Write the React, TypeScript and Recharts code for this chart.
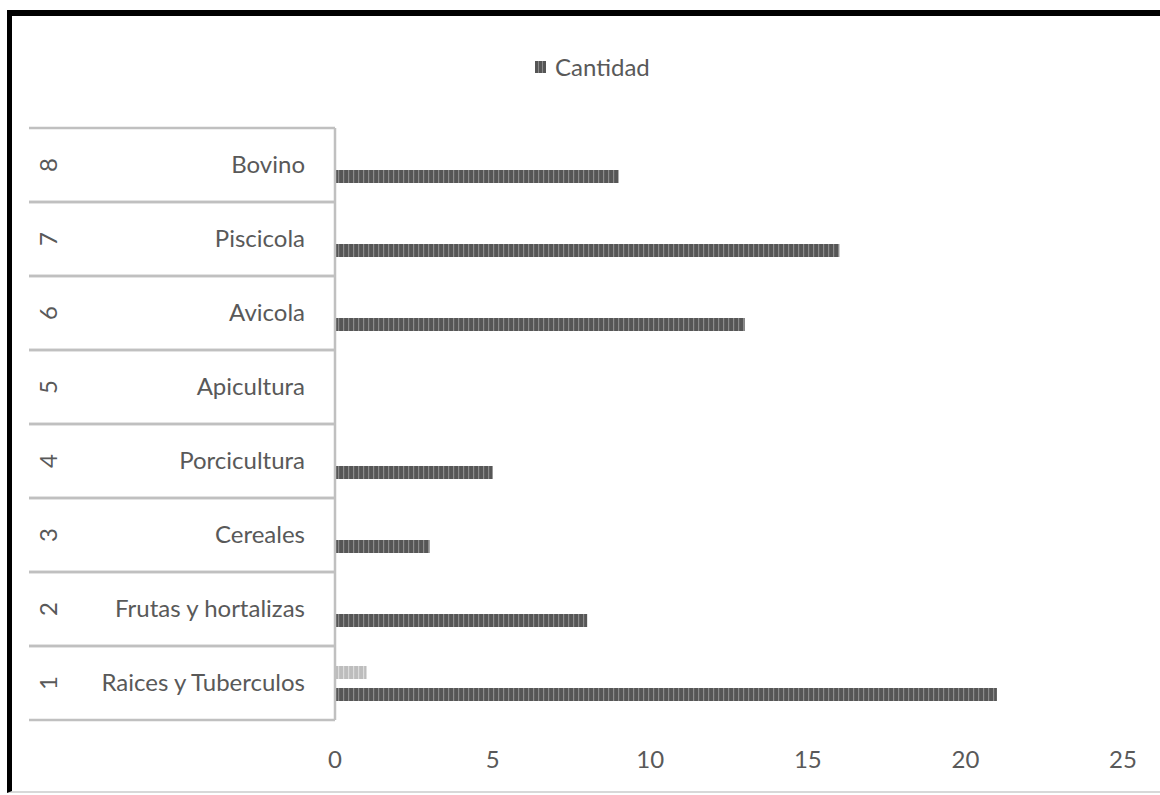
import { Bar, BarChart, Legend, XAxis, YAxis } from "recharts";

const CATEGORIES = [
	"Raices y Tuberculos",
	"Frutas y hortalizas",
	"Cereales",
	"Porcicultura",
	"Apicultura",
	"Avicola",
	"Piscicola",
	"Bovino",
];
const CATEGORY_NUMBERS = ["1", "2", "3", "4", "5", "6", "7", "8"];
const CANTIDAD = [21, 8, 3, 5, 0, 13, 16, 9];
const SECOND_SERIES = [1, 0, 0, 0, 0, 0, 0, 0];
const X_TICKS = [0, 5, 10, 15, 20, 25];

const DATA = CATEGORIES.map((name, i) => ({
	name,
	cantidad: CANTIDAD[i],
	otro: SECOND_SERIES[i],
}));

const W = 1160;
const H = 795;
const MARGIN = { top: 128, right: 37, bottom: 45, left: 0 };
const X_AXIS_H = 30;
const Y_AXIS_W = 335;
const BAND = (H - MARGIN.top - MARGIN.bottom - X_AXIS_H) / CATEGORIES.length;

const TEXT = "#595959";
const LINE = "#c0c0c0";
const FONT = "Lato, 'Open Sans', sans-serif";

function CategoryTick(props: any) {
	const { y, payload } = props;
	const i = CATEGORIES.indexOf(payload.value);
	const half = BAND / 2;
	return (
		<g>
			<line x1={29} x2={Y_AXIS_W} y1={y - half} y2={y - half} stroke={LINE} strokeWidth={2.5} />
			<line x1={29} x2={Y_AXIS_W} y1={y + half} y2={y + half} stroke={LINE} strokeWidth={2.5} />
			<text
				x={305}
				y={y}
				dy="0.35em"
				textAnchor="end"
				fill={TEXT}
				fontSize={24}
				fontFamily={FONT}
			>
				{payload.value}
			</text>
			<text
				transform={`translate(49 ${y}) rotate(-90)`}
				dy="0.35em"
				textAnchor="middle"
				fill={TEXT}
				fontSize={24}
				fontFamily={FONT}
			>
				{CATEGORY_NUMBERS[i]}
			</text>
		</g>
	);
}

function LegendContent() {
	return (
		<div style={{ display: "flex", alignItems: "center", fontFamily: FONT, fontSize: 24, color: TEXT }}>
			<span
				style={{
					display: "inline-block",
					width: 11,
					height: 12,
					marginRight: 9,
					background: "repeating-linear-gradient(90deg, #555 0 3px, #8a8a8a 3px 4px)",
				}}
			/>
			Cantidad
		</div>
	);
}

export default function App() {
	return (
		<div
			style={{
				position: "fixed",
				left: 0,
				top: 0,
				width: W,
				height: H,
				overflow: "hidden",
				background: "#fff",
			}}
		>
			<div
				style={{
					position: "absolute",
					left: 7,
					top: 10,
					width: 1200,
					height: 775,
					borderTop: "6px solid #000",
					borderLeft: "5px solid #000",
					borderBottom: "2px solid #d8d8d8",
				}}
			/>
			<div style={{ position: "absolute", left: 0, top: 0 }}>
				<BarChart
					width={W}
					height={H}
					data={DATA}
					layout="vertical"
					margin={MARGIN}
					barSize={13}
					barGap={9}
					style={{ fontFamily: FONT }}
				>
					<defs>
						<pattern id="hatchDark" width="5" height="10" patternUnits="userSpaceOnUse">
							<rect width="5" height="10" fill="#565656" />
							<rect x="3" width="1.2" height="10" fill="#8c8c8c" />
						</pattern>
						<pattern id="hatchLight" width="5" height="10" patternUnits="userSpaceOnUse">
							<rect width="5" height="10" fill="#bdbdbd" />
							<rect x="3" width="1.2" height="10" fill="#dcdcdc" />
						</pattern>
					</defs>
					<XAxis
						type="number"
						domain={[0, 25]}
						ticks={X_TICKS}
						height={X_AXIS_H}
						axisLine={false}
						tickLine={false}
						tickMargin={25}
						tick={{ fill: TEXT, fontSize: 24, fontFamily: FONT }}
					/>
					<YAxis
						type="category"
						dataKey="name"
						reversed
						width={Y_AXIS_W}
						axisLine={{ stroke: LINE, strokeWidth: 2.5 }}
						tickLine={false}
						tick={<CategoryTick />}
						interval={0}
					/>
					<Legend
						layout="horizontal"
						verticalAlign="middle"
						align="center"
						wrapperStyle={{ top: 52, left: 535, width: "auto" }}
						content={<LegendContent />}
					/>
					<Bar dataKey="otro" fill="url(#hatchLight)" legendType="none" isAnimationActive={false} />
					<Bar dataKey="cantidad" name="Cantidad" fill="url(#hatchDark)" isAnimationActive={false} />
				</BarChart>
			</div>
		</div>
	);
}
